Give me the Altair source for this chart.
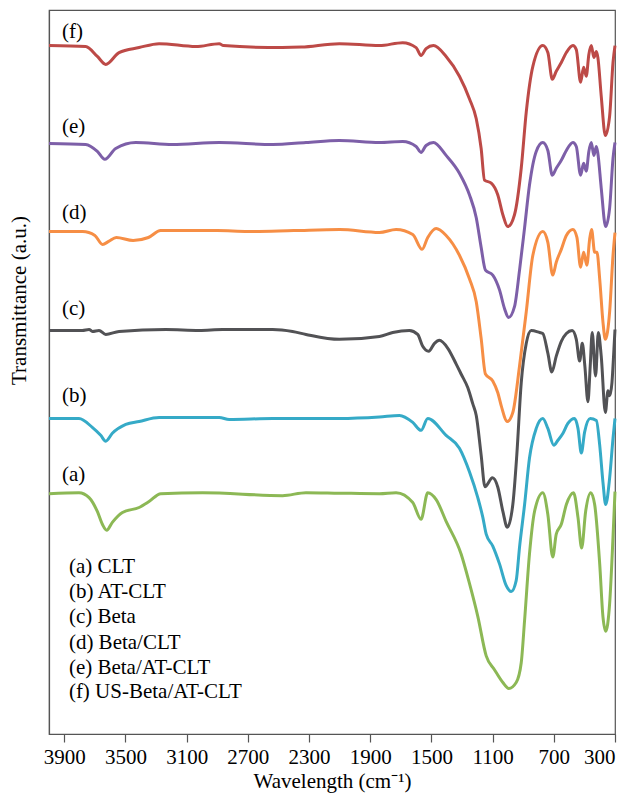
import altair as alt
import pandas as pd

# ---------------- data (wavenumber cm-1, transmittance a.u., stacked) ----------------
SERIES = ["(a) CLT", "(b) AT-CLT", "(c) Beta", "(d) Beta/CLT", "(e) Beta/AT-CLT", "(f) US-Beta/AT-CLT"]
TAGS = ["(a)", "(b)", "(c)", "(d)", "(e)", "(f)"]
COLORS = ["#8CB855", "#35AAC7", "#525255", "#F68E45", "#7D5FA8", "#BD4A47"]

WN_A = [4000, 3804, 3738, 3684, 3651, 3623, 3586, 3520, 3411, 3346, 3269, 2996, 2473, 2320, 2102,
        1840, 1731, 1622, 1568, 1524, 1469, 1404, 1306, 1251, 1197, 1142, 1088, 1033, 994, 946,
        913, 891, 859, 826, 772, 739, 707, 684, 651, 618, 571, 542, 518, 492, 459, 433, 400,
        379, 361, 335, 313, 300]
T_A = [243, 244, 239, 225, 212, 206, 214, 224, 229, 235, 243, 244, 241, 244, 243.5,
       243, 244, 234, 217, 244, 237, 215, 182, 152, 119, 79, 65, 52, 46, 52,
       72, 115, 182, 225, 244, 222, 179, 202, 212, 232, 244, 219, 188, 225, 244, 232, 172,
       119, 104, 132, 199, 245]

WN_B = [4000, 3804, 3717, 3662, 3629, 3586, 3498, 3411, 3280, 2887, 2822, 2538, 2102,
        1840, 1709, 1622, 1568, 1524, 1404, 1317, 1251, 1197, 1164, 1142, 1099, 1055, 1011,
        978, 946, 924, 891, 859, 815, 772, 739, 700, 673, 640, 608, 564, 542, 520, 499, 462,
        422, 400, 379, 361, 335, 313, 300]
T_B = [319, 319, 310, 302, 296, 304, 313, 316, 320, 320, 318, 319, 319,
       320.5, 322, 315, 307, 319, 302, 289, 265, 239, 219, 202, 190, 172, 150,
       144, 155, 189, 232, 279, 309, 319, 309, 292, 297, 304, 314, 319, 309, 284, 305, 319,
       317, 292, 255, 232, 259, 299, 319]

WN_C = [4000, 3782, 3738, 3716, 3673, 3629, 3542, 3236, 3018, 2865, 2538, 2408, 2320, 2102,
        1840, 1753, 1644, 1590, 1557, 1518, 1480, 1448, 1393, 1338, 1306, 1262, 1230, 1207,
        1175, 1150, 1101, 1066, 1033, 1004, 968, 942, 913, 880, 848, 793, 772, 739, 713, 684,
        651, 618, 580, 553, 531, 514, 497, 477, 462, 449, 427, 409, 390, 363, 346, 335, 320,
        307, 300]
T_C = [408, 408, 409, 407, 408, 404, 407, 409, 408, 409, 409, 407, 404, 399,
       402, 406, 408, 404, 392, 387, 395, 398, 390, 374, 364, 350, 334, 322,
       282, 250, 259, 249.5, 225, 209, 232, 282, 355, 395, 408, 406, 405, 385, 366, 382,
       397, 405, 408, 399, 377, 395, 372, 336, 372, 406, 362, 406, 382, 325, 347, 342, 355,
       389, 409]

WN_D = [4000, 3780, 3700, 3650, 3610, 3560, 3450, 3350, 3270, 3100, 2900, 2700, 2400, 2100,
        1840, 1731, 1622, 1561, 1524, 1469, 1404, 1317, 1251, 1207, 1175, 1147, 1099, 1066,
        1044, 1004, 968, 924, 880, 837, 772, 739, 707, 684, 651, 618, 575, 549, 525, 505, 484,
        466, 453, 433, 418, 400, 379, 363, 335, 313, 300]
T_D = [508, 508, 504, 495, 498, 502, 499, 502, 509, 509, 509, 508, 509, 510,
       507, 510, 505, 490, 502, 511, 504, 484, 460, 437, 400, 364, 357, 345,
       332, 316, 325, 372, 427, 484, 508, 497, 464, 477, 490, 504, 510, 502, 472, 487, 474,
       500, 510, 487, 487, 460, 417, 399, 427, 484, 507]

WN_E = [4000, 3760, 3684, 3635, 3564, 3433, 3193, 2887, 2538, 2320, 2102,
        1840, 1688, 1600, 1568, 1535, 1487, 1404, 1317, 1251, 1207, 1175, 1147, 1099, 1055,
        1022, 996, 957, 924, 891, 859, 815, 772, 739, 710, 684, 651, 618, 575, 553, 525, 505,
        488, 471, 455, 438, 422, 412, 390, 361, 335, 313, 300]
T_E = [597, 596, 589, 581, 592, 598, 596, 598, 596, 598, 600,
       598, 599, 594, 588, 595, 598, 585, 567, 545, 522, 492, 469, 464, 449,
       430, 421, 432, 469, 512, 555, 589, 598, 590, 565, 572, 580, 590, 598, 594, 565, 577,
       569, 589, 598, 585, 594, 587, 552, 513, 532, 582, 598]

WN_F = [4000, 3760, 3684, 3629, 3542, 3411, 3280, 3040, 2887, 2860, 2475, 2350, 2102,
        1840, 1688, 1600, 1568, 1535, 1487, 1404, 1317, 1251, 1207, 1175, 1153, 1109, 1066,
        1033, 1001, 957, 913, 880, 837, 772, 739, 710, 684, 651, 618, 575, 553, 525, 505, 488,
        471, 455, 438, 422, 412, 390, 363, 335, 313, 300]
T_F = [696, 695, 685, 677, 689, 694, 698, 695, 698, 696, 694, 694.5, 698,
       696, 699, 694, 686, 693, 696, 685, 665, 642, 622, 592, 560, 557, 545,
       525, 513, 525, 572, 629, 675, 696, 689, 662, 670, 679, 689, 696, 692, 659, 674, 665,
       687, 696, 684, 690, 684, 645, 605, 625, 679, 696]

# label positions (a.u.) for the curve tags and the legend block
TAG_WN = 3915
TAG_T = [262, 342, 430, 527, 614, 710]
LEG_WN = 3870
LEG_T = [169, 144, 118, 92, 67, 42]

X_TICKS = [3900, 3500, 3100, 2700, 2300, 1900, 1500, 1100, 700, 300]

# ---------------- build tables ----------------
wn_all = [WN_A, WN_B, WN_C, WN_D, WN_E, WN_F]
t_all = [T_A, T_B, T_C, T_D, T_E, T_F]
rows = []
for name, wns, ts in zip(SERIES, wn_all, t_all):
    for w, t in zip(wns, ts):
        rows.append({"series": name, "wn": w, "t": t})
df = pd.DataFrame(rows)

tags = pd.DataFrame({"label": TAGS, "wn": [TAG_WN] * 6, "t": TAG_T})
legend = pd.DataFrame({"label": SERIES, "wn": [LEG_WN] * 6, "t": LEG_T})

FONT = "Liberation Serif, Times New Roman, serif"
FS = 21

x_enc = alt.X(
    "wn:Q",
    scale=alt.Scale(domain=[300, 4000], reverse=True, nice=False, zero=False),
    axis=alt.Axis(values=X_TICKS, format="d", title="Wavelength (cm\u207b\u00b9)",
                  tickSize=8, labelPadding=4, titlePadding=3, grid=False),
)
y_enc = alt.Y(
    "t:Q",
    scale=alt.Scale(domain=[0, 732], nice=False, zero=False),
    axis=alt.Axis(labels=False, ticks=False, grid=False, title="Transmittance (a.u.)",
                  titleX=-30, titleY=290, titleAngle=270, titleAlign="center",
                  titleBaseline="middle"),
)

lines = alt.Chart(df).mark_line(strokeWidth=3, interpolate="monotone").encode(
    x=x_enc,
    y=y_enc,
    color=alt.Color("series:N", scale=alt.Scale(domain=SERIES, range=COLORS), legend=None),
    detail="series:N",
)

tag_text = alt.Chart(tags).mark_text(align="left", baseline="middle", font=FONT,
                                     fontSize=FS, color="black").encode(
    x="wn:Q", y="t:Q", text="label:N")

legend_text = alt.Chart(legend).mark_text(align="left", baseline="middle", font=FONT,
                                          fontSize=FS, color="black").encode(
    x="wn:Q", y="t:Q", text="label:N")

chart = alt.layer(lines, tag_text, legend_text).properties(
    width=566, height=724,
    padding={"left": 0, "top": 2, "right": 2, "bottom": 2},
).configure_view(
    stroke="#555555", strokeWidth=1.2
).configure_axis(
    labelFont=FONT, titleFont=FONT, labelFontSize=FS, titleFontSize=FS,
    labelColor="black", titleColor="black", titleFontWeight="normal",
    domainColor="#555555", tickColor="#555555", domainWidth=1.2, tickWidth=1.2,
)

chart.save("out.html", embed_options={"renderer": "svg", "actions": False})
